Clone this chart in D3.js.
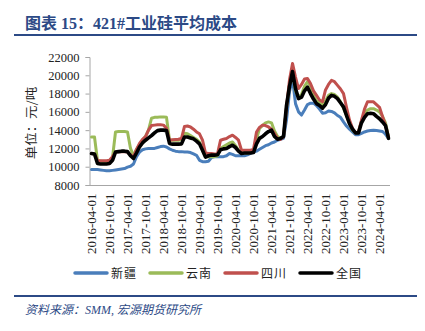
<!DOCTYPE html>
<html><head><meta charset="utf-8">
<script src="https://cdn.jsdelivr.net/npm/d3@7"></script>
<style>body{margin:0;background:#fff}svg{display:block}</style>
</head><body><svg id="c" width="425" height="331"></svg>
<script>
// monthly, 2016-04 .. 2024-07
const startYear = 2016, startMonth = 4, nMonths = 100;
const seriesNames = ["新疆", "云南", "四川", "全国"];
const xinjiang = [9700,9700,9700,9650,9600,9550,9550,9600,9650,9700,9750,9800,9950,10050,10300,11100,11600,11850,11950,12000,
12000,12000,12100,12200,12250,12150,11950,11800,11700,11650,11650,11600,11600,11550,11400,11250,10700,10550,10550,10600,
11000,11100,11100,11100,11100,11200,11450,11350,11200,11200,11200,11200,11300,11450,11600,11700,11900,12100,12300,12400,
12600,12700,12900,13000,13100,15100,18200,19600,16900,16000,15650,16200,16800,16950,16950,16700,16300,15850,15900,16100,
16050,15900,15600,15400,14900,14450,14100,13800,13500,13500,13650,13800,13900,13950,14000,13950,13900,13850,13550,13100];
const yunnan = [13250,13250,10650,10600,10550,10550,10650,11000,13800,13850,13850,13850,13800,12000,11200,11900,12400,12900,13300,14000,
15300,15400,15400,15450,15450,15400,12900,12900,12900,12900,13000,13650,13600,13400,13200,13000,12700,11800,11100,11100,
11100,11100,11200,12000,12200,12400,12600,12700,12300,11800,11500,11500,11500,11550,11700,13000,14200,14500,14800,14900,
14800,13900,13300,13100,13300,16500,19000,20300,18300,17600,17900,18800,19300,18800,17800,17200,17000,16700,17200,17800,
18000,17900,17600,17100,16400,15600,14700,14000,13700,13800,15000,15900,16200,16350,16350,16200,16000,15500,14800,13270];
const sichuan = [11450,11400,10650,10650,10650,10650,10700,11100,11600,11650,11650,11650,11600,11300,11100,11900,12550,13000,13300,14000,
14500,14550,14600,14600,14550,14200,12900,12950,12980,13000,13100,14400,14450,14350,14100,13800,13600,12900,11500,11450,
11450,11400,11400,12900,13000,13090,13300,13450,13200,12900,11800,11800,11800,11800,11900,13800,14300,14550,14500,14350,
14100,13640,13100,12980,13270,16500,19500,21300,19800,18550,19000,19600,19650,19100,18300,17800,17300,17100,18400,19000,
19450,19300,18900,18500,18000,16500,15100,14200,13700,13800,15100,16300,17100,17100,17100,16800,16500,15500,14500,13270];
const national = [11450,11400,10350,10300,10300,10300,10350,10700,11600,11650,11700,11700,11650,11200,10900,11500,12150,12600,12900,13150,
13400,13700,13950,14000,14000,13950,12550,12470,12470,12470,12500,13250,13250,13150,13050,12800,12500,11800,11050,11200,
11270,11270,11300,11850,11950,12000,12200,12350,12100,11700,11450,11500,11500,11500,11550,12500,13100,13300,13600,13850,
14000,13300,13000,13100,13300,16700,18800,20400,18550,17450,17600,18300,18700,18000,17400,16900,16700,16400,16800,17500,
17800,17700,17450,17000,16550,15600,14700,14100,13700,13700,14800,15400,15800,15850,15800,15500,15250,14900,14500,13100];
const yTicks = [8000,10000,12000,14000,16000,18000,20000,22000];
const colors = ["#4A7EBB", "#9BBB59", "#C0504D", "#000000"];

const months = d3.range(nMonths).map(i => {
  const t = startMonth - 1 + i;
  const y = startYear + Math.floor(t / 12), m = (t % 12) + 1;
  return y + "-" + String(m).padStart(2, "0") + "-01";
});
const tickLabels = months.filter((d, i) => i % 6 === 0);
const allSeries = [xinjiang, yunnan, sichuan, national];

const svg = d3.select("#c");
const navy = "#2C4A86";
// title
svg.append("text").attr("x", 25).attr("y", 28.5)
  .attr("font-family", "'Liberation Serif','Noto Sans CJK SC',serif")
  .attr("font-weight", "bold").attr("font-size", 16).attr("fill", navy)
  .text("图表 15：421#工业硅平均成本");
svg.append("line").attr("x1", 14).attr("x2", 417).attr("y1", 35).attr("y2", 35)
  .attr("stroke", navy).attr("stroke-width", 2);

const x = d3.scalePoint().domain(months).range([91.5, 388.5]);
const y = d3.scaleLinear().domain([8000, 22000]).range([185, 57]);

// y axis
const yAxis = svg.append("g").attr("transform", "translate(89.5,0)")
  .call(d3.axisLeft(y).tickValues(yTicks).tickSize(4).tickPadding(6).tickFormat(d3.format("d")));
yAxis.select(".domain").attr("stroke", "#A6A6A6");
yAxis.selectAll(".tick line").attr("stroke", "#A6A6A6");
yAxis.selectAll("text").attr("font-family", "'Liberation Serif',serif").attr("font-size", 12.5).attr("fill", "#222");

// x axis
const xAxis = svg.append("g").attr("transform", "translate(0,185.5)")
  .call(d3.axisBottom(x).tickValues(tickLabels).tickSize(0).tickPadding(0));
xAxis.select(".domain").attr("d", "M89.5,0H390").attr("stroke", "#A6A6A6");
xAxis.selectAll("text")
  .attr("font-family", "'Liberation Serif',serif").attr("font-size", 12).attr("fill", "#222")
  .attr("text-anchor", "end").attr("dy", "0.35em")
  .attr("transform", "translate(0,8) rotate(-90) scale(1.08,1)").attr("y", 0).attr("x", 0);

// y title
svg.append("text").attr("transform", "translate(36,123) rotate(-90) scale(1.12,1)")
  .attr("text-anchor", "middle").attr("font-family", "'Noto Sans CJK SC',sans-serif")
  .attr("font-size", 12).attr("fill", "#222").text("单位：元/吨");

// lines
const line = d3.line().x((d, i) => x(months[i])).y(d => y(d)).curve(d3.curveLinear);
allSeries.forEach((s, k) => {
  svg.append("path").datum(s).attr("d", line).attr("fill", "none")
    .attr("stroke", colors[k]).attr("stroke-width", k === 3 ? 3.6 : 3)
    .attr("stroke-linejoin", "round").attr("stroke-linecap", "round");
});

// legend
const legX = [74, 149, 224, 299];
seriesNames.forEach((n, k) => {
  const g = svg.append("g").attr("transform", `translate(${legX[k]},273)`);
  g.append("line").attr("x1", 1).attr("x2", 33).attr("y1", 0).attr("y2", 0)
    .attr("stroke", colors[k]).attr("stroke-width", 3.5).attr("stroke-linecap", "round");
  g.append("text").attr("x", 37).attr("y", 4.5).attr("font-family", "'Noto Sans CJK SC',sans-serif")
    .attr("font-size", 12).attr("letter-spacing", 1).attr("fill", "#222").text(n);
});

svg.append("line").attr("x1", 14).attr("x2", 417).attr("y1", 296).attr("y2", 296)
  .attr("stroke", navy).attr("stroke-width", 2);
svg.append("text").attr("x", 25).attr("y", 314)
  .attr("font-family", "'Liberation Serif','Noto Sans CJK SC',serif").attr("font-style", "italic")
  .attr("font-size", 12).attr("fill", navy).text("资料来源：SMM, 宏源期货研究所");
</script></body></html>
